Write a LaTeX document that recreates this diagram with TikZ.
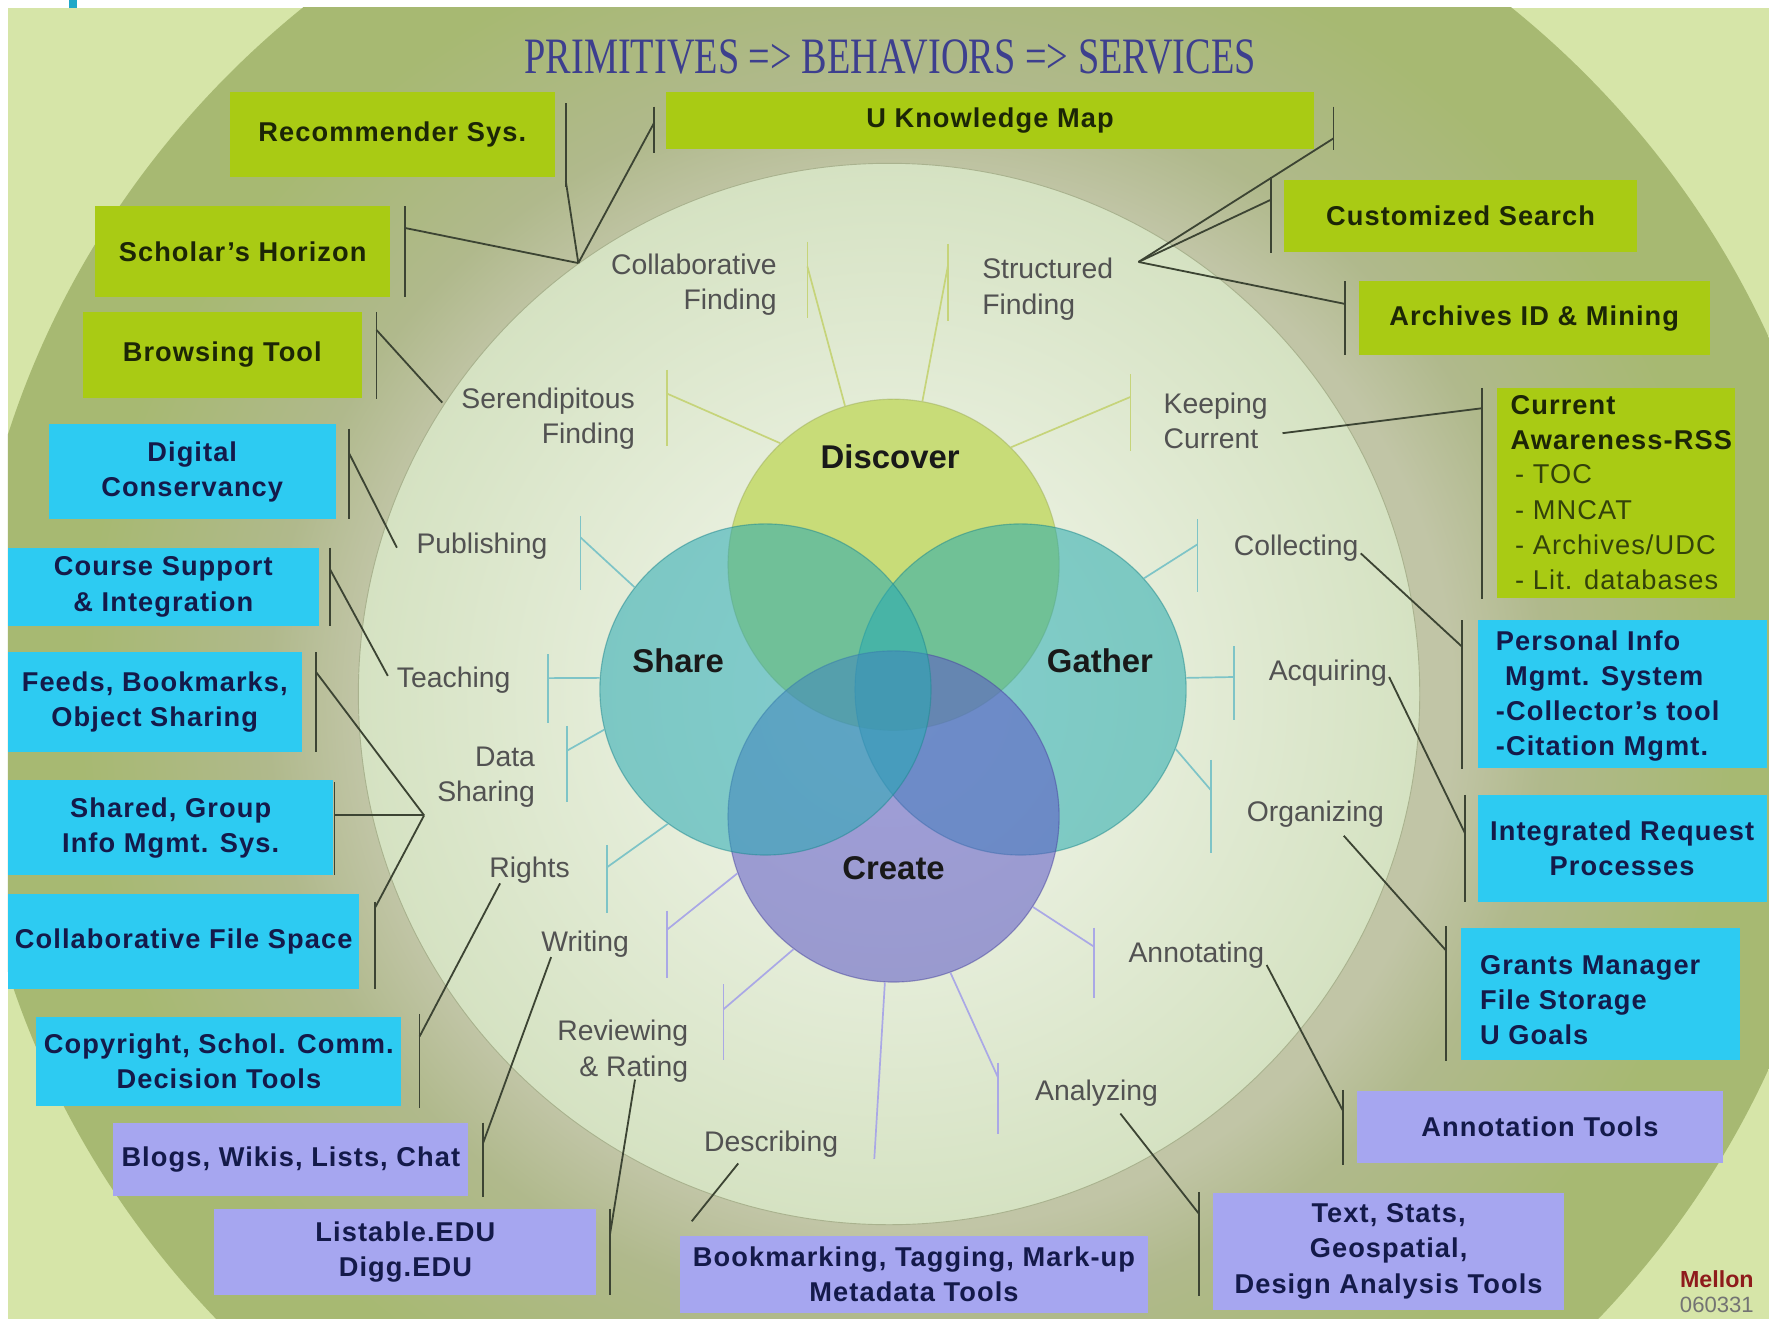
\documentclass[tikz,border=0pt]{standalone}
\usepackage{fontspec}
\setmainfont{Liberation Sans}
\newfontfamily\titlefont{Liberation Serif}
\usetikzlibrary{calc}

\definecolor{bgout}{HTML}{D6E5A8}
\definecolor{ringin}{HTML}{C1C5A6}
\definecolor{ringmid}{HTML}{B0B98C}
\definecolor{ringout}{HTML}{A7B972}
\definecolor{diskin}{HTML}{F5F8F0}
\definecolor{diskout}{HTML}{D5E2C2}
\definecolor{diskedge}{HTML}{A9B28E}
\definecolor{boxgreen}{HTML}{A9CB14}
\definecolor{boxcyan}{HTML}{2DCBF2}
\definecolor{boxlav}{HTML}{A6A6F0}
\definecolor{txtgreen}{HTML}{1C2606}
\definecolor{txtolive}{HTML}{33420A}
\definecolor{txtnavy}{HTML}{141A4A}
\definecolor{behgray}{HTML}{525252}
\definecolor{linkdark}{HTML}{3C4433}
\definecolor{titleblue}{HTML}{3D3F8E}
\definecolor{cdisc}{RGB}{200,220,120}
\definecolor{cshare}{RGB}{40,170,180}
\definecolor{cgath}{RGB}{40,172,176}
\definecolor{ccrea}{RGB}{93,87,200}
\definecolor{tdisc}{HTML}{C6D47A}
\definecolor{tshare}{HTML}{7EC4C7}
\definecolor{tcrea}{HTML}{AAA8E6}
\definecolor{mellonred}{HTML}{8E1B1B}
\definecolor{cyanmark}{HTML}{1FA8C8}

\pgfdeclareradialshading{ringshade}{\pgfpoint{0bp}{0bp}}{%
  color(0bp)=(ringin); color(14.5bp)=(ringin); color(17bp)=(ringmid);
  color(22bp)=(ringout); color(25bp)=(ringout); color(50bp)=(ringout)}

\tikzset{
  svc/.style={rectangle, inner sep=0pt, align=center, font=\bfseries\fontsize{24}{31}\selectfont\addfontfeatures{LetterSpace=4}},
  gbox/.style={svc, fill=boxgreen, text=txtgreen},
  cbox/.style={svc, fill=boxcyan, text=txtnavy},
  lbox/.style={svc, fill=boxlav, text=txtnavy},
  sz/.style 2 args={minimum width=#1pt, minimum height=#2pt},
  beh/.style={inner sep=0pt, text=behgray, font=\fontsize{25}{31}\selectfont},
  venn/.style={circle, minimum size=292pt, inner sep=0pt, fill opacity=0.55, draw opacity=0.5, line width=1pt},
  vlabel/.style={text=black!90, font=\bfseries\fontsize{29}{32}\selectfont},
  link/.style={draw=linkdark, line width=1.6pt},
  tick/.style={line width=1.5pt},
}

\begin{document}
\begin{tikzpicture}[x=1pt,y=-1pt]
			%%%%% BACKGROUND %%%%%
			\useasboundingbox (0,0) rectangle (1560,1163);
			\fill[white] (0,0) rectangle (1560,1163);
			\fill[cyanmark] (61,0) rectangle (68,7);
			\begin{scope}
				\clip (7,7) rectangle (1560,1163);
				\fill[bgout] (7,7) rectangle (1560,1163);
				\shade[shading=ringshade] (800,620) ellipse [x radius=830pt, y radius=800pt];
				\shade[inner color=diskin, outer color=diskout] (784,612) circle [radius=468pt];
				\draw[diskedge, line width=0.8pt] (784,612) circle [radius=468pt];
			\end{scope}
			
			\node[text=titleblue] (title) at (785,50) {\scalebox{0.75}[1]{\titlefont\fontsize{45}{50}\selectfont PRIMITIVES => BEHAVIORS => SERVICES}};
			
			%%%%% VENN %%%%%
			\node[venn, fill=cdisc, fill opacity=1, draw=cdisc!80!black] (disc) at (788,498) {};
			\node[venn, fill=cgath, draw=cgath!80!black] (gath) at (900,608) {};
			\node[venn, fill=ccrea, draw=ccrea!80!black] (crea) at (788,720) {};
			\node[venn, fill=cshare, draw=cshare!80!black] (share) at (675,608) {};
			
			\node[vlabel] (discL) at (785,403) {Discover};
			\node[vlabel] (shareL) at (598,583) {Share};
			\node[vlabel] (gathL) at (970,583) {Gather};
			\node[vlabel] (creaL) at (788,766) {Create};
			
			%%%%% BEHAVIORS %%%%%
			\node[beh, align=right, anchor=east] (cf) at (685,251) {Collaborative\\Finding};
			\node[beh, align=left, anchor=west] (sf) at (866,255) {Structured\\Finding};
			\node[beh, align=right, anchor=east] (sd) at (560,369) {Serendipitous\\Finding};
			\node[beh, align=left, anchor=west] (kc) at (1026,371) {Keeping\\Current};
			\node[beh] (pub) at (425,482) {Publishing};
			\node[beh] (col) at (1143,483) {Collecting};
			\node[beh] (tea) at (400,600) {Teaching};
			\node[beh] (acq) at (1171,594) {Acquiring};
			\node[beh, align=right, anchor=east] (ds) at (472,685) {Data\\Sharing};
			\node[beh] (org) at (1160,718) {Organizing};
			\node[beh] (rig) at (467,767) {Rights};
			\node[beh] (wri) at (516,833) {Writing};
			\node[beh] (ann) at (1055,842) {Annotating};
			\node[beh, align=right, anchor=east] (rev) at (607,927) {Reviewing\\\& Rating};
			\node[beh] (anl) at (967,964) {Analyzing};
			\node[beh] (des) at (680,1009) {Describing};
			
			% ticks to the circles
			\coordinate (cfT) at (712,235);
			\draw[tick,tdisc] (712,213) -- (712,280);
			\draw[tick,tdisc] (disc.107) -- (cfT);
			\coordinate (sfT) at (836,234);
			\draw[tick,tdisc] (836,215) -- (836,283);
			\draw[tick,tdisc] (disc.80) -- (sfT);
			\coordinate (sdT) at (588,347);
			\draw[tick,tdisc] (588,326) -- (588,393);
			\draw[tick,tdisc] (disc.133) -- (sdT);
			\coordinate (kcT) at (997,350);
			\draw[tick,tdisc] (997,330) -- (997,398);
			\draw[tick,tdisc] (disc.45) -- (kcT);
			
			\coordinate (pubT) at (512,474);
			\draw[tick,tshare] (512,455) -- (512,520);
			\draw[tick,tshare] (share.142) -- (pubT);
			\coordinate (teaT) at (483,598);
			\draw[tick,tshare] (483,577) -- (483,638);
			\draw[tick,tshare] (share.176) -- (teaT);
			\coordinate (dsT) at (500,662);
			\draw[tick,tshare] (500,640) -- (500,707);
			\draw[tick,tshare] (share.194) -- (dsT);
			\coordinate (rigT) at (535,765);
			\draw[tick,tshare] (535,745) -- (535,805);
			\draw[tick,tshare] (share.234) -- (rigT);
			
			\coordinate (colT) at (1056,480);
			\draw[tick,tshare] (1056,458) -- (1056,522);
			\draw[tick,tshare] (gath.42) -- (colT);
			\coordinate (acqT) at (1088,597);
			\draw[tick,tshare] (1088,570) -- (1088,635);
			\draw[tick,tshare] (gath.4) -- (acqT);
			\coordinate (orgT) at (1068,697);
			\draw[tick,tshare] (1068,670) -- (1068,752);
			\draw[tick,tshare] (gath.339) -- (orgT);
			
			\coordinate (wriT) at (588,820);
			\draw[tick,tcrea] (588,803) -- (588,862);
			\draw[tick,tcrea] (crea.200) -- (wriT);
			\coordinate (revT) at (638,890);
			\draw[tick,tcrea] (638,868) -- (638,935);
			\draw[tick,tcrea] (crea.233) -- (revT);
			\coordinate (desT) at (771,1022);
			\draw[tick,tcrea] (crea.267) -- (desT);
			\coordinate (anlT) at (880,950);
			\draw[tick,tcrea] (880,937) -- (880,1000);
			\draw[tick,tcrea] (crea.290) -- (anlT);
			\coordinate (annT) at (965,835);
			\draw[tick,tcrea] (965,818) -- (965,880);
			\draw[tick,tcrea] (crea.327) -- (annT);
			
			%%%%% SERVICES %%%%%
			\node[gbox, sz={286}{75}] (rec) at (346,118.5) {Recommender Sys.};
			\node[gbox, sz={572}{50}] (ukm) at (873,106) {U Knowledge Map};
			\node[gbox, sz={260}{80}] (sch) at (214,222) {Scholar's Horizon};
			\node[gbox, sz={312}{63}] (cus) at (1288,190.5) {Customized Search};
			\node[gbox, sz={246}{76}] (brw) at (196,313) {Browsing Tool};
			\node[gbox, sz={310}{65}] (arc) at (1353,280.5) {Archives ID \& Mining};
			\node[gbox, sz={210}{185}] (cur) at (1425,434.5) {};
			\node[anchor=west, align=left, inner sep=0pt, text=txtgreen, font=\bfseries\fontsize{24}{31}\selectfont\addfontfeatures{LetterSpace=4}] (curT) at (1332,434.5)
				{Current\\Awareness-RSS\\[-1pt]
				{\mdseries\color{txtolive}\hspace*{4pt}- TOC}\\
				{\mdseries\color{txtolive}\hspace*{4pt}- MNCAT}\\
				{\mdseries\color{txtolive}\hspace*{4pt}- Archives/UDC}\\
				{\mdseries\color{txtolive}\hspace*{4pt}- Lit. databases}};
			
			\node[cbox, sz={253}{84}] (dig) at (169.5,416) {Digital\\Conservancy};
			\node[cbox, sz={274}{69}] (crs) at (144,517.5) {Course Support\\\& Integration};
			\node[cbox, sz={259}{88}] (fed) at (136.5,619) {Feeds, Bookmarks,\\Object Sharing};
			\node[cbox, sz={287}{84}] (shg) at (150.5,730) {Shared, Group\\Info Mgmt. Sys.};
			\node[cbox, sz={310}{84}] (cfs) at (162,830) {Collaborative File Space};
			\node[cbox, sz={322}{78}] (cpy) at (193,936) {Copyright, Schol. Comm.\\Decision Tools};
			\node[cbox, sz={255}{130}] (pim) at (1430.5,612) {};
			\node[anchor=west, align=left, inner sep=0pt, text=txtnavy, font=\bfseries\fontsize{24}{31}\selectfont\addfontfeatures{LetterSpace=4}] (pimT) at (1319,614)
				{Personal Info\\\hspace*{8pt}Mgmt. System\\-Collector's tool\\-Citation Mgmt.};
			\node[cbox, sz={255}{94}] (irp) at (1430.5,748) {Integrated Request\\Processes};
			\node[cbox, sz={246}{117}] (grm) at (1411,876.5) {};
			\node[anchor=west, align=left, inner sep=0pt, text=txtnavy, font=\bfseries\fontsize{24}{31}\selectfont\addfontfeatures{LetterSpace=4}] (grmT) at (1305,882)
				{Grants Manager\\File Storage\\U Goals};
			
			\node[lbox, sz={313}{65}] (blg) at (256.5,1022.5) {Blogs, Wikis, Lists, Chat};
			\node[lbox, sz={337}{76}] (lst) at (357.5,1104) {Listable.EDU\\Digg.EDU};
			\node[lbox, sz={412}{68}] (bkm) at (806,1124) {Bookmarking, Tagging, Mark-up\\Metadata Tools};
			\node[lbox, sz={322}{64}] (ant) at (1358,994) {Annotation Tools};
			\node[lbox, sz={309}{103}] (tst) at (1224.5,1103.5) {Text, Stats,\\Geospatial,\\Design Analysis Tools};
			
			%%%%% CONNECTORS %%%%%
			\coordinate (cfA) at (510,232);
			\coordinate (recB) at (499,160);
			\coordinate (ukmB) at (577,108);
			\coordinate (schB) at (357,201);
			\draw[link] (499,91) -- (499,165);
			\draw[link] (577,94) -- (577,135);
			\draw[link] (357,182) -- (357,262);
			\draw[link] (recB) -- (cfA);
			\draw[link] (ukmB) -- (cfA);
			\draw[link] (schB) -- (cfA);
			
			\coordinate (sdA) at (390,355);
			\coordinate (brwB) at (332,291);
			\draw[link] (332,275) -- (332,352);
			\draw[link] (brwB) -- (sdA);
			
			\coordinate (sfA) at (1004,231);
			\coordinate (ukmC) at (1176,122);
			\coordinate (cusB) at (1121,176);
			\coordinate (arcB) at (1186,268);
			\draw[link] (1176,94) -- (1176,132);
			\draw[link] (1121,156) -- (1121,223);
			\draw[link] (1186,248) -- (1186,313);
			\draw[link] (sfA) -- (ukmC);
			\draw[link] (sfA) -- (cusB);
			\draw[link] (sfA) -- (arcB);
			
			\coordinate (kcA) at (1131,382);
			\coordinate (curB) at (1307,360);
			\draw[link] (1307,342) -- (1307,528);
			\draw[link] (kcA) -- (curB);
			
			\coordinate (colA) at (1200,488);
			\coordinate (pimB) at (1289,570);
			\draw[link] (1289,547) -- (1289,678);
			\draw[link] (colA) -- (pimB);
			
			\coordinate (acqA) at (1225,597);
			\coordinate (irpB) at (1292,735);
			\draw[link] (1292,701) -- (1292,795);
			\draw[link] (acqA) -- (irpB);
			
			\coordinate (orgA) at (1185,737);
			\coordinate (grmB) at (1275,838);
			\draw[link] (1275,817) -- (1275,936);
			\draw[link] (orgA) -- (grmB);
			
			\coordinate (annA) at (1117,851);
			\coordinate (antB) at (1184,979);
			\draw[link] (1184,961) -- (1184,1027);
			\draw[link] (annA) -- (antB);
			
			\coordinate (anlA) at (988,982);
			\coordinate (tstB) at (1057,1070);
			\draw[link] (1057,1051) -- (1057,1143);
			\draw[link] (anlA) -- (tstB);
			
			\coordinate (desA) at (651,1026);
			\coordinate (bkmB) at (610,1077);
			\draw[link] (desA) -- (bkmB);
			
			\coordinate (revA) at (560,952);
			\coordinate (lstB) at (538,1088);
			\draw[link] (538,1066) -- (538,1142);
			\draw[link] (revA) -- (lstB);
			
			\coordinate (wriA) at (486,844);
			\coordinate (blgB) at (426,1008);
			\draw[link] (426,990) -- (426,1056);
			\draw[link] (wriA) -- (blgB);
			
			\coordinate (rigA) at (441,779);
			\coordinate (cpyB) at (370,914);
			\draw[link] (370,894) -- (370,977);
			\draw[link] (rigA) -- (cpyB);
			
			\coordinate (dsA) at (374,719);
			\coordinate (fedB) at (279,593);
			\coordinate (shgB) at (295,719);
			\coordinate (cfsB) at (331,800);
			\draw[link] (279,575) -- (279,663);
			\draw[link] (295,690) -- (295,772);
			\draw[link] (331,795) -- (331,872);
			\draw[link] (dsA) -- (fedB);
			\draw[link] (dsA) -- (shgB);
			\draw[link] (dsA) -- (cfsB);
			
			\coordinate (teaA) at (342,596);
			\coordinate (crsB) at (291,502);
			\draw[link] (291,483) -- (291,552);
			\draw[link] (crsB) -- (teaA);
			
			\coordinate (pubA) at (350,483);
			\coordinate (digB) at (308,400);
			\draw[link] (308,378) -- (308,458);
			\draw[link] (digB) -- (pubA);
			
			\node[text=mellonred, font=\bfseries\fontsize{20.5}{22}\selectfont] (mellon) at (1514,1128) {Mellon};
			\node[text=black!55, font=\fontsize{19.5}{21}\selectfont] (mdate) at (1514,1151) {060331};
			
		\end{tikzpicture}
\end{document}
